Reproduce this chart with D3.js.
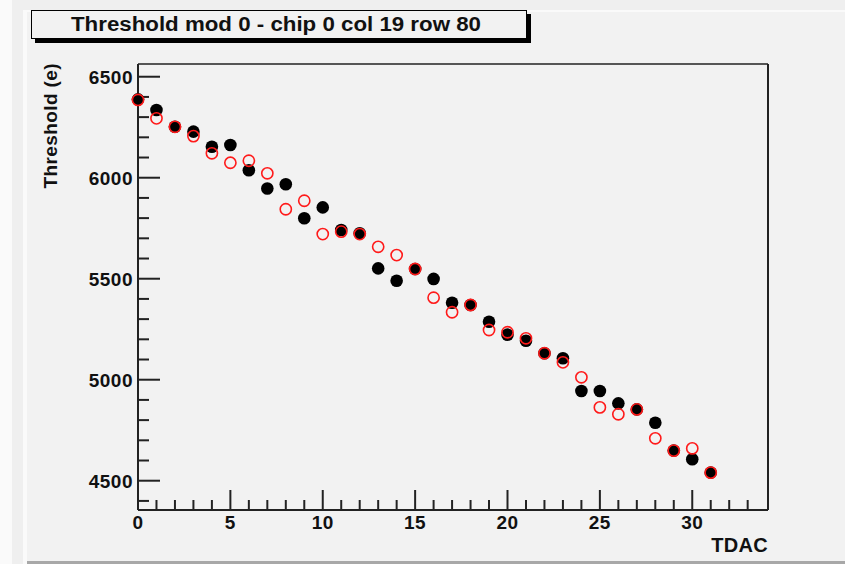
<!DOCTYPE html>
<html>
<head>
<meta charset="utf-8">
<script src="https://cdn.jsdelivr.net/npm/d3@7"></script>
<style>
	html, body { margin: 0; padding: 0; background: #ffffff; }
	#chart { width: 845px; height: 564px; }
	text { font-family: "Liberation Sans", Arial, Helvetica, sans-serif; font-weight: bold; fill: #111; }
</style>
</head>
<body>
<div id="chart"></div>
<script>
var TITLE = "Threshold mod 0 - chip 0 col 19 row 80";
var X_LABEL = "TDAC";
var Y_LABEL = "Threshold (e)";

var tdac = [0, 1, 2, 3, 4, 5, 6, 7, 8, 9, 10, 11, 12, 13, 14, 15,
	16, 17, 18, 19, 20, 21, 22, 23, 24, 25, 26, 27, 28, 29, 30, 31];

// filled black markers
var thresholdA = [6388, 6335, 6252, 6228, 6153, 6162, 6037, 5947, 5968, 5799, 5853, 5741, 5725, 5551, 5490, 5548,
	5499, 5381, 5370, 5287, 5223, 5193, 5131, 5106, 4944, 4944, 4883, 4853, 4787, 4649, 4606, 4540];

// open red markers
var thresholdB = [6385, 6294, 6252, 6206, 6121, 6074, 6084, 6022, 5844, 5886, 5721, 5733, 5721, 5658, 5617, 5548,
	5406, 5334, 5370, 5246, 5235, 5205, 5131, 5086, 5012, 4863, 4829, 4853, 4710, 4649, 4660, 4540];

var xMajorTicks = [0, 5, 10, 15, 20, 25, 30];
var yMajorTicks = [4500, 5000, 5500, 6000, 6500];

var size = {
	width: 845,
	height: 564,
	left: 138,
	right: 768,
	top: 64,
	bottom: 510
};

var svg = d3.select("#chart")
	.append("svg")
	.attr("width", size.width)
	.attr("height", size.height);

var drawCanvas = function(_svg)	{
	// window chrome around the ROOT canvas
	_svg.append("rect")
		.attr("x", 0).attr("y", 0)
		.attr("width", size.width).attr("height", size.height)
		.style("fill", "#fafafa");
	_svg.append("rect")
		.attr("x", 12).attr("y", 0)
		.attr("width", size.width - 12).attr("height", 10)
		.style("fill", "#efefef");
	_svg.append("rect")
		.attr("x", 12).attr("y", 0)
		.attr("width", 11).attr("height", size.height)
		.style("fill", "#efefef");
	_svg.append("rect")
		.attr("x", 27).attr("y", 12)
		.attr("width", size.width - 27).attr("height", 549)
		.style("fill", "#f2f2f2");
	_svg.append("rect")
		.attr("x", 27).attr("y", 561)
		.attr("width", size.width - 27).attr("height", 3)
		.style("fill", "#a8a8a8");
}

var drawTitle = function(_svg)	{
	_svg.append("rect")
		.attr("x", 35).attr("y", 14)
		.attr("width", 496).attr("height", 29)
		.style("fill", "#000");
	_svg.append("rect")
		.attr("x", 31.5).attr("y", 10.5)
		.attr("width", 495).attr("height", 28)
		.style("fill", "#f2f2f2")
		.style("stroke", "#000")
		.style("stroke-width", 1);
	_svg.append("text")
		.attr("x", 276)
		.attr("y", 31)
		.attr("text-anchor", "middle")
		.style("font-size", "20px")
		.attr("textLength", 410)
		.attr("lengthAdjust", "spacingAndGlyphs")
		.text(TITLE);
}

drawCanvas(svg);
drawTitle(svg);

var x = d3.scaleLinear()
	.domain([0, 34.1])
	.range([size.left, size.right]);

var y = d3.scaleLinear()
	.domain([4355, 6563])
	.range([size.bottom, size.top]);

// frame
var frame = svg.append("g").attr("class", "frame");
frame.append("line")
	.attr("x1", size.left).attr("x2", size.right)
	.attr("y1", size.top).attr("y2", size.top)
	.style("stroke", "#222").style("stroke-width", 1.5);
frame.append("line")
	.attr("x1", size.right).attr("x2", size.right)
	.attr("y1", size.top).attr("y2", size.bottom)
	.style("stroke", "#222").style("stroke-width", 2);

// x axis, ticks pointing up into the frame
var xAxis = svg.append("g")
	.attr("class", "x_axis")
	.attr("transform", "translate(0, " + size.bottom + ")");

xAxis.selectAll(".x_minor")
	.data(d3.range(0, 34))
	.enter().append("line")
	.attr("class", "x_minor")
	.attr("x1", function(_d) { return x(_d); })
	.attr("x2", function(_d) { return x(_d); })
	.attr("y1", 0)
	.attr("y2", function(_d) { return xMajorTicks.indexOf(_d) >= 0 ? -20 : -10; })
	.style("stroke", "#222")
	.style("stroke-width", 2);

xAxis.append("line")
	.attr("x1", size.left).attr("x2", size.right)
	.attr("y1", 0).attr("y2", 0)
	.style("stroke", "#222").style("stroke-width", 2);

xAxis.selectAll(".x_label")
	.data(xMajorTicks)
	.enter().append("text")
	.attr("class", "x_label")
	.attr("x", function(_d) { return x(_d); })
	.attr("y", 19)
	.attr("text-anchor", "middle")
	.style("font-size", "19px")
	.style("letter-spacing", "0.5px")
	.text(function(_d) { return _d; });

svg.append("text")
	.attr("x", size.right)
	.attr("y", 552)
	.attr("text-anchor", "end")
	.style("font-size", "20px")
	.style("letter-spacing", "0.3px")
	.text(X_LABEL);

// y axis, ticks pointing right
var yAxis = svg.append("g")
	.attr("class", "y_axis")
	.attr("transform", "translate(" + size.left + ", 0)");

yAxis.selectAll(".y_tick")
	.data(d3.range(4400, 6600, 100))
	.enter().append("line")
	.attr("class", "y_tick")
	.attr("x1", 0)
	.attr("x2", function(_d) { return yMajorTicks.indexOf(_d) >= 0 ? 22 : 11; })
	.attr("y1", function(_d) { return y(_d); })
	.attr("y2", function(_d) { return y(_d); })
	.style("stroke", "#222")
	.style("stroke-width", 2);

yAxis.append("line")
	.attr("x1", 0).attr("x2", 0)
	.attr("y1", size.top).attr("y2", size.bottom)
	.style("stroke", "#222").style("stroke-width", 2);

yAxis.selectAll(".y_label")
	.data(yMajorTicks)
	.enter().append("text")
	.attr("class", "y_label")
	.attr("x", -5)
	.attr("y", function(_d) { return y(_d) + 7; })
	.attr("text-anchor", "end")
	.style("font-size", "19px")
	.style("letter-spacing", "0.5px")
	.text(function(_d) { return _d; });

svg.append("text")
	.attr("transform", "translate(57, " + (size.top - 1) + ") rotate(-90)")
	.attr("text-anchor", "end")
	.style("font-size", "19px")
	.style("letter-spacing", "0.4px")
	.text(Y_LABEL);

// markers
svg.append("g")
	.attr("class", "series_a")
	.selectAll("circle")
	.data(tdac)
	.enter().append("circle")
	.attr("cx", function(_d) { return x(_d); })
	.attr("cy", function(_d, i) { return y(thresholdA[i]); })
	.attr("r", 6.3)
	.style("fill", "#000");

svg.append("g")
	.attr("class", "series_b")
	.selectAll("circle")
	.data(tdac)
	.enter().append("circle")
	.attr("cx", function(_d) { return x(_d); })
	.attr("cy", function(_d, i) { return y(thresholdB[i]); })
	.attr("r", 5.6)
	.style("fill", "none")
	.style("stroke", "#ff1a1a")
	.style("stroke-width", 1.6);
</script>
</body>
</html>
